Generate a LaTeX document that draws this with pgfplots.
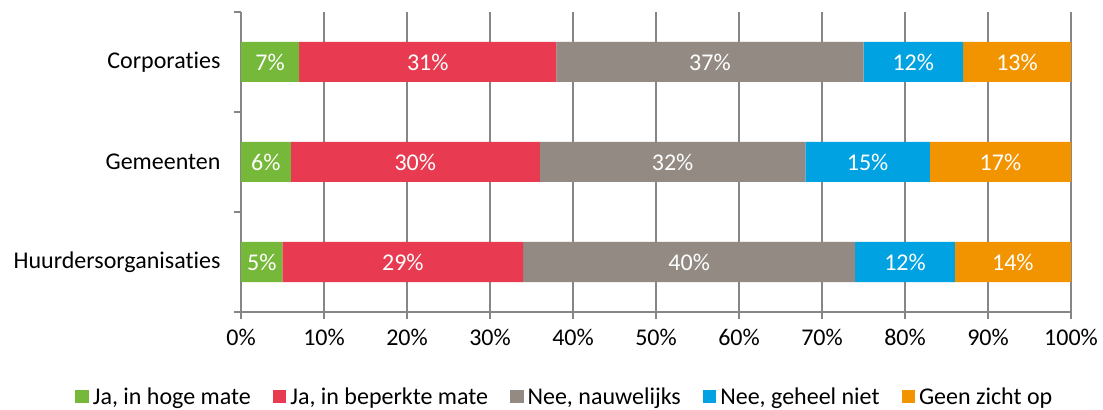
\documentclass[border=0pt]{standalone}
\usepackage{fontspec}
\setmainfont{Carlito}[Ligatures={NoCommon}]
\usepackage{pgfplots}
\pgfplotsset{compat=1.18}
\usetikzlibrary{calc}

\definecolor{cGreen}{HTML}{76B83A}
\definecolor{cRed}{HTML}{E83A50}
\definecolor{cGray}{HTML}{928A83}
\definecolor{cBlue}{HTML}{00A2E2}
\definecolor{cOrange}{HTML}{F29400}
\definecolor{axgray}{HTML}{868686}

\begin{document}
\begin{tikzpicture}
\begin{axis}[
    name=ax,
    scale only axis,
    width=830pt, height=300pt,
    xbar stacked,
    bar width=40pt,
    xmin=0, xmax=100,
    ymin=-0.5, ymax=2.5,
    axis x line*=bottom,
    axis y line*=left,
    axis line style={axgray, line width=1.4pt},
    xtick={0,10,...,100},
    xticklabel={\pgfmathprintnumber{\tick}\%},
    xmajorgrids,
    grid style={axgray, line width=1.4pt},
    ytick={-0.5,0.5,1.5,2.5},
    yticklabels={},
    extra y ticks={0,1,2},
    extra y tick labels={Huurdersorganisaties,Gemeenten,Corporaties},
    extra y tick style={major tick length=0pt},
    major tick length=7pt,
    tick style={axgray, line width=1.4pt},
    tick align=outside,
    tick label style={font=\fontsize{24}{28}\selectfont, text=black},
    xticklabel style={yshift=-7pt},
    yticklabel style={xshift=-17pt},
    /pgf/number format/assume math mode=true,
    nodes near coords={\pgfmathprintnumber{\pgfplotspointmeta}\%},
    every node near coord/.append style={
        font=\fontsize{24}{28}\selectfont, text=white, anchor=center},
    legend style={
        at={(0.389,-0.282)}, anchor=center, draw=none,
        legend columns=5, font=\fontsize{24}{28}\selectfont,
        nodes={inner xsep=0pt, inner ysep=2pt},
        /tikz/every odd column/.append style={column sep=4pt},
        /tikz/every even column/.append style={column sep=22pt},
    },
    legend image code/.code={\fill[#1] (0pt,-6.75pt) rectangle (13.5pt,6.75pt);},
]
\addplot[fill=cGreen, draw=none] coordinates {(5,0) (6,1) (7,2)};
\addlegendentry{Ja, in hoge mate}
\addplot[fill=cRed, draw=none] coordinates {(29,0) (30,1) (31,2)};
\addlegendentry{Ja, in beperkte mate}
\addplot[fill=cGray, draw=none] coordinates {(40,0) (32,1) (37,2)};
\addlegendentry{Nee, nauwelijks}
\addplot[fill=cBlue, draw=none] coordinates {(12,0) (15,1) (12,2)};
\addlegendentry{Nee, geheel niet}
\addplot[fill=cOrange, draw=none] coordinates {(14,0) (17,1) (13,2)};
\addlegendentry{Geen zicht op}
\end{axis}
\useasboundingbox ($(ax.south west)+(-241pt,-96pt)$) rectangle ($(ax.south west)+(862pt,312pt)$);
\end{tikzpicture}
\end{document}
